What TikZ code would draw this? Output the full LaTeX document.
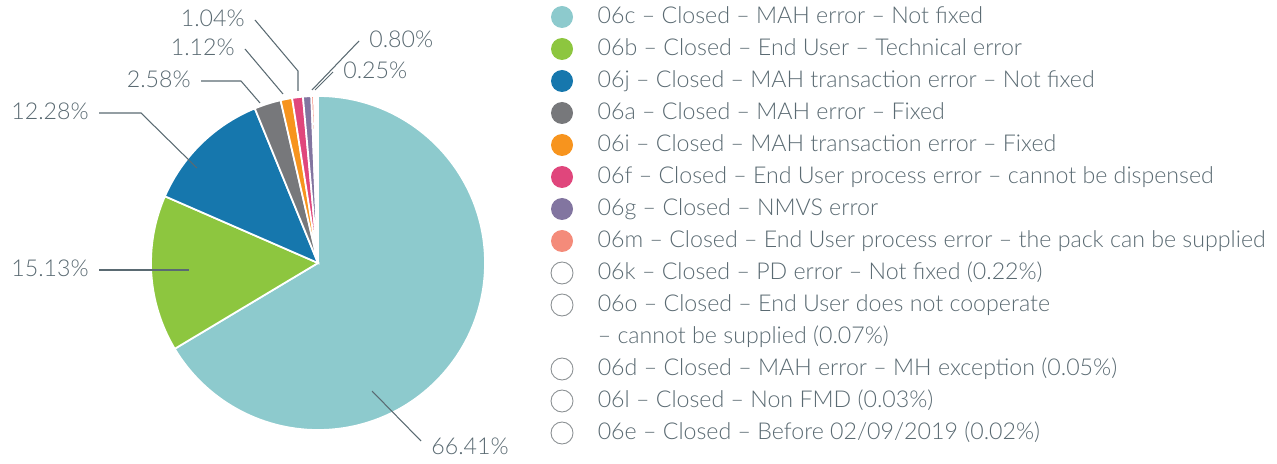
\documentclass[tikz,border=0pt]{standalone}
\usepackage{fontspec}
\setmainfont{Lato Light}
\usetikzlibrary{positioning}

\definecolor{txtgray}{HTML}{5A6A72}
\definecolor{emptygray}{HTML}{8A8F92}
\definecolor{c06c}{HTML}{8DCACD}
\definecolor{c06b}{HTML}{8DC63F}
\definecolor{c06j}{HTML}{1677AD}
\definecolor{c06a}{HTML}{77787B}
\definecolor{c06i}{HTML}{F7941E}
\definecolor{c06f}{HTML}{E0467C}
\definecolor{c06g}{HTML}{8275A0}
\definecolor{c06m}{HTML}{F48B7A}

\tikzset{
	piechart/.style = {
		x=0.02cm, y=0.02cm, font=\fontsize{13.2}{16}\selectfont,
	},
	slice/.style = {draw=white, line width=1pt},
	pct/.style = {inner xsep=0.2cm, inner ysep=0pt, text=txtgray,
		text height=0.72em, text depth=0pt},
	leader/.style = {draw=txtgray, line width=0.6pt},
	keydot/.style = {circle, minimum size=0.44cm, inner sep=0pt},
	keytxt/.style = {inner sep=0pt, text=txtgray, text height=0.72em, text depth=0pt},
}

\begin{document}
\begin{tikzpicture}[piechart]
	\useasboundingbox (0,0) rectangle (1277,463);
	\coordinate (ctr) at (318,200);

	% slices, clockwise from the top
	\foreach \a/\b/\col in {90/-149.08/c06c, 210.92/156.45/c06b, 156.45/112.24/c06j,
		112.24/102.95/c06a, 102.95/98.92/c06i, 98.92/95.18/c06f,
		95.18/92.30/c06g, 92.30/91.40/c06m}
		\filldraw[slice, fill=\col] (ctr) -- ++(\a:167) arc[start angle=\a, end angle=\b, radius=167] -- cycle;

	% percentages
	\node[pct, anchor=north west] (p6641) at (421,22) {66.41\%};
	\node[pct, anchor=east] (p1513) at (99,193) {15.13\%};
	\node[pct, anchor=east] (p1228) at (99,350) {12.28\%};
	\node[pct, anchor=east] (p258) at (201,382) {2.58\%};
	\node[pct, anchor=east] (p112) at (245,414) {1.12\%};
	\node[pct, anchor=east] (p104) at (255,443) {1.04\%};
	\node[pct, anchor=west] (p080) at (359,422) {0.80\%};
	\node[pct, anchor=west] (p025) at (333,391) {0.25\%};

	\coordinate (s6641) at (372,72);
	\coordinate (s1513) at (189,193);
	\coordinate (s1228) at (197,295);
	\coordinate (s258) at (260,360);
	\coordinate (s112) at (283,369);
	\coordinate (s104) at (298,372);
	\coordinate (s080) at (312,373);
	\coordinate (s025) at (315,373);

	\draw[leader] (s6641) -- (p6641.north west);
	\draw[leader] (p1513.east) -- (s1513);
	\draw[leader] (p1228.east) -- ++(42,0) -- (s1228);
	\draw[leader] (p258.east) -- ++(40,0) -- (s258);
	\draw[leader] (p112.east) -- (s112);
	\draw[leader] (p104.east) -- (298,392) -- (s104);
	\draw[leader] (p080.west) -- (s080);
	\draw[leader] (p025.west) -- (s025);

	% legend
	\foreach \row/\code/\col/\txt in {0/06c/c06c/{MAH error – Not fixed},
		1/06b/c06b/{End User – Technical error},
		2/06j/c06j/{MAH transaction error – Not fixed},
		3/06a/c06a/{MAH error – Fixed},
		4/06i/c06i/{MAH transaction error – Fixed},
		5/06f/c06f/{End User process error – cannot be dispensed},
		6/06g/c06g/{NMVS error},
		7/06m/c06m/{End User process error – the pack can be supplied}}
	{
		\node[keydot, fill=\col] (k\code) at (562,446-32*\row) {};
		\node[keytxt, right=0.48cm of k\code] (t\code) {\code{} – Closed – \txt};
	}
	\foreach \row/\code/\txt in {8/06k/{PD error – Not fixed (0.22\%)},
		9/06o/{End User does not cooperate},
		11/06d/{MAH error – MH exception (0.05\%)},
		12/06l/{Non FMD (0.03\%)},
		13/06e/{Before 02/09/2019 (0.02\%)}}
	{
		\node[keydot, draw=emptygray, line width=0.5pt, fill=white] (k\code) at (562,446-32*\row) {};
		\node[keytxt, right=0.48cm of k\code] (t\code) {\code{} – Closed – \txt};
	}
	\node[keytxt, below=0.64cm of t06o.west, anchor=west] (t06o2) {– cannot be supplied (0.07\%)};
\end{tikzpicture}
\end{document}
